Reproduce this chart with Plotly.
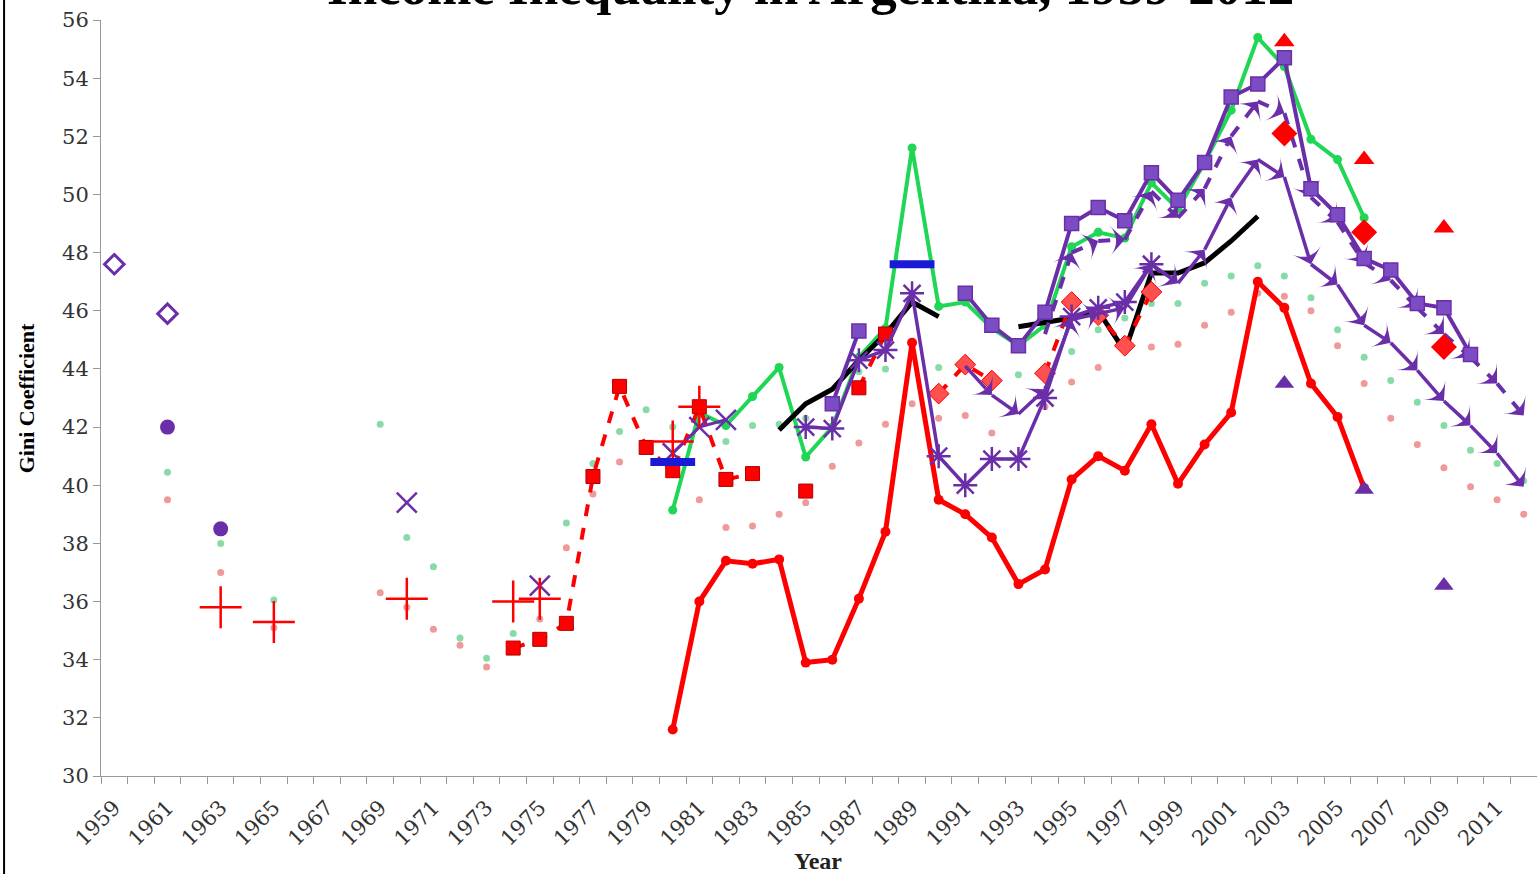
import plotly.graph_objects as go

# --- data (Gini coefficient, %) ---
years_red = list(range(1980, 2007))
gini_red = [31.6, 36.0, 37.4, 37.3, 37.45, 33.9, 34.0, 36.1, 38.4, 44.9, 39.5, 39.0, 38.2, 36.6,
            37.1, 40.2, 41.0, 40.5, 42.1, 40.05, 41.4, 42.5, 47.0, 46.1, 43.5, 42.35, 39.9]

years_green = list(range(1980, 2007))
gini_green = [39.15, 42.5, 42.05, 43.05, 44.05, 40.97, 42.0, 44.4, 45.4, 51.6, 46.15, 46.3, 45.4, 44.8,
              45.5, 48.2, 48.7, 48.5, 50.4, 49.5, 51.1, 52.9, 55.4, 54.4, 51.9, 51.2, 49.2]

years_black = list(range(1984, 2003))
gini_black = [41.9, 42.8, 43.3, 44.3, 45.2, 46.3, 45.8, None, None, 45.45, 45.6, 45.75, 46.0, 44.6,
              47.3, 47.3, 47.65, 48.4, 49.25]

years_sq = list(range(1986, 2011))
gini_sq = [42.8, 45.3, None, None, None, 46.6, 45.5, 44.8, 45.95, 49.0, 49.55, 49.1, 50.75, 49.8,
           51.1, 53.35, 53.8, 54.7, 50.2, 49.3, 47.8, 47.4, 46.25, 46.1, 44.5]

years_arrow_dash = list(range(1994, 2013))
gini_arrow_dash = [45.2, 48.0, 48.4, 48.45, 50.1, 49.2, 50.2, 52.0, 53.2, 52.8, 49.9, 49.05, 47.65,
                   47.05, 46.1, 45.2, 44.4, 43.5, 42.4]

years_arrow = list(range(1991, 2013))
gini_arrow = [44.1, 43.1, 42.45, 43.3, 45.7, 45.9, 46.1, 47.6, 46.95, 48.1, 49.9, 51.2, 50.6, 47.6,
              46.9, 45.5, 44.9, 43.95, 42.9, 42.05, 41.1, 39.95]

years_star = list(range(1985, 1999))
gini_star = [42.0, 41.95, 44.3, 44.65, 46.6, 41.0, 40.0, 40.9, 40.9, 43.0, 45.8, 46.1, 46.3, 47.6]

years_x = list(range(1970, 1983))
gini_x = [39.4, None, None, None, None, 36.55, None, None, None, None, 41.1, 42.0, 42.25]

years_plus = [1963, 1965, 1970, 1974, 1975, 1980, 1981]
gini_plus = [35.8, 35.3, 36.1, 36.0, 36.1, 41.5, 42.7]

years_redsq = list(range(1974, 1989))
gini_redsq = [34.4, 34.7, 35.25, 40.3, 43.4, 41.3, 40.5, 42.7, 40.2, 40.4, None, 39.8, None, 43.35, 45.2]

years_reddia = list(range(1990, 1999))
gini_reddia = [43.15, 44.15, 43.6, None, 43.85, 46.3, 45.85, 44.8, 46.65]

years_pdia = [1959, 1961]
gini_pdia = [47.6, 45.9]

years_oval = [1961, 1963]
gini_oval = [42.0, 38.5]

years_blue = [1980, 1989]
gini_blue = [40.8, 47.6]

years_tri = [2003, 2006, 2009]
gini_tri_red = [55.25, 51.2, 48.85]
gini_dia_red = [52.1, 48.7, 44.75]
gini_tri_purple = [43.5, 39.85, 36.55]

years_gdot = [1961, 1963, 1965, 1969, 1970, 1971, 1972, 1973, 1974, 1976, 1977, 1978, 1979, 1980,
              1982, 1983, 1984, 1985, 1987, 1988, 1989, 1990, 1993, 1995, 1996, 1997, 1998, 1999,
              2000, 2001, 2002, 2003, 2004, 2005, 2006, 2007, 2008, 2009, 2010, 2011, 2012]
gini_gdot = [40.45, 38.0, 36.05, 42.1, 38.2, 37.2, 34.75, 34.05, 34.9, 38.7, 40.75, 41.85, 42.6, 42.0,
             41.5, 42.05, 42.1, 42.3, 43.9, 44.0, 44.9, 44.05, 43.8, 44.6, 45.35, 45.75, 46.25, 46.25,
             46.95, 47.2, 47.55, 47.2, 46.45, 45.35, 44.4, 43.6, 42.85, 42.05, 41.2, 40.75, 40.15]

years_pdot = [1961, 1963, 1965, 1969, 1970, 1971, 1972, 1973, 1975, 1976, 1977, 1978, 1981, 1982,
              1983, 1984, 1985, 1986, 1987, 1988, 1989, 1990, 1991, 1992, 1994, 1995, 1996, 1998,
              1999, 2000, 2001, 2002, 2003, 2004, 2005, 2006, 2007, 2008, 2009, 2010, 2011, 2012]
gini_pdot = [39.5, 37.0, 35.1, 36.3, 35.8, 35.05, 34.5, 33.75, 35.4, 37.85, 39.7, 40.8, 39.5, 38.55,
             38.6, 39.0, 39.4, 40.65, 41.45, 42.1, 42.8, 42.3, 42.4, 41.8, 42.7, 43.55, 44.05, 44.75,
             44.85, 45.5, 45.95, 46.6, 46.5, 46.0, 44.8, 43.5, 42.3, 41.4, 40.6, 39.95, 39.5, 39.0]

tick_years = list(range(1959, 2012, 2))

RED = '#ff0000'
GREEN = '#1fd655'
PURPLE = '#6a2fa8'

fig = go.Figure()

# faint dotted series
fig.add_trace(go.Scatter(x=years_gdot, y=gini_gdot, mode='markers',
                         marker=dict(size=7, color='#5fcf8a', opacity=0.75)))
fig.add_trace(go.Scatter(x=years_pdot, y=gini_pdot, mode='markers',
                         marker=dict(size=7, color='#e87878', opacity=0.75)))

fig.add_trace(go.Scatter(x=years_red, y=gini_red, mode='lines+markers',
                         line=dict(color=RED, width=5), marker=dict(size=10, color=RED)))
fig.add_trace(go.Scatter(x=years_green, y=gini_green, mode='lines+markers',
                         line=dict(color=GREEN, width=4), marker=dict(size=9, color=GREEN)))
fig.add_trace(go.Scatter(x=years_black, y=gini_black, mode='lines',
                         line=dict(color='black', width=5)))

fig.add_trace(go.Scatter(x=years_redsq, y=gini_redsq, mode='lines+markers',
                         line=dict(color=RED, width=4, dash='dash'),
                         marker=dict(symbol='square', size=14, color=RED,
                                     line=dict(color='#b00000', width=1))))
fig.add_trace(go.Scatter(x=years_reddia, y=gini_reddia, mode='lines+markers',
                         line=dict(color=RED, width=4, dash='dash'),
                         marker=dict(symbol='diamond', size=16, color='#ff5050',
                                     line=dict(color=RED, width=1))))

fig.add_trace(go.Scatter(x=years_star, y=gini_star, mode='lines+markers',
                         line=dict(color=PURPLE, width=3.5),
                         marker=dict(symbol='asterisk-open', size=20, color=PURPLE,
                                     line=dict(width=2.5))))
fig.add_trace(go.Scatter(x=years_arrow, y=gini_arrow, mode='lines+markers',
                         line=dict(color=PURPLE, width=3.5),
                         marker=dict(symbol='arrow-wide', size=21, color=PURPLE, angleref='previous')))
fig.add_trace(go.Scatter(x=years_arrow_dash, y=gini_arrow_dash, mode='lines+markers',
                         line=dict(color=PURPLE, width=4, dash='dash'),
                         marker=dict(symbol='arrow-wide', size=21, color=PURPLE, angleref='previous')))
fig.add_trace(go.Scatter(x=years_sq, y=gini_sq, mode='lines+markers',
                         line=dict(color=PURPLE, width=4),
                         marker=dict(symbol='square', size=14, color='#7c4cc4',
                                     line=dict(color=PURPLE, width=1.5))))
fig.add_trace(go.Scatter(x=years_x, y=gini_x, mode='lines+markers',
                         line=dict(color=PURPLE, width=3),
                         marker=dict(symbol='x-thin-open', size=20, color=PURPLE,
                                     line=dict(width=2.5))))

fig.add_trace(go.Scatter(x=years_plus, y=gini_plus, mode='markers',
                         marker=dict(symbol='cross-thin-open', size=30, color=RED,
                                     line=dict(width=2.5))))
fig.add_trace(go.Scatter(x=years_pdia, y=gini_pdia, mode='markers',
                         marker=dict(symbol='diamond-open', size=15, color=PURPLE,
                                     line=dict(width=3))))
fig.add_trace(go.Scatter(x=years_oval, y=gini_oval, mode='markers',
                         marker=dict(symbol='circle', size=15, color=PURPLE)))
fig.add_trace(go.Scatter(x=years_blue, y=gini_blue, mode='markers',
                         marker=dict(symbol='line-ew-open', size=32, color='#1a1ad6',
                                     line=dict(width=8))))
fig.add_trace(go.Scatter(x=years_tri, y=gini_tri_red, mode='markers',
                         marker=dict(symbol='triangle-up', size=18, color=RED)))
fig.add_trace(go.Scatter(x=years_tri, y=gini_dia_red, mode='markers',
                         marker=dict(symbol='diamond', size=20, color=RED)))
fig.add_trace(go.Scatter(x=years_tri, y=gini_tri_purple, mode='markers',
                         marker=dict(symbol='triangle-up', size=17, color=PURPLE)))

fig.update_xaxes(range=[1958.5, 2012.5], tickvals=tick_years, ticktext=[str(y) for y in tick_years],
                 tickangle=-45, ticks='', ticklabelstandoff=10,
                 tickfont=dict(family='DejaVu Serif', size=21, color='#333333'),
                 showline=True, linecolor='#999999', linewidth=1, showgrid=False, zeroline=False,
                 minor=dict(ticks='outside', tick0=1958.5, dtick=1, ticklen=7, tickcolor='#999999'))
fig.update_yaxes(range=[30, 56], dtick=2, ticks='outside', ticklen=7, tickcolor='#999999',
                 tickfont=dict(family='DejaVu Serif', size=21, color='#333333'),
                 showline=True, linecolor='#999999', linewidth=1, showgrid=False, zeroline=False)

fig.update_layout(
    width=1537, height=874,
    showlegend=False,
    plot_bgcolor='white', paper_bgcolor='white',
    margin=dict(l=101, r=0, t=20, b=98),
    annotations=[
        # the title sits mostly above the top edge of the picture, as in the source image
        dict(text='<b>Income Inequality in Argentina, 1959-2012</b>', xref='paper', yref='paper',
             x=0.494, y=1.004, xanchor='center', yanchor='bottom', showarrow=False,
             font=dict(family='Liberation Serif', size=53, color='black')),
        dict(text='<b>Gini Coefficient</b>', xref='paper', yref='paper', x=-0.052, y=0.5,
             xanchor='center', yanchor='middle', textangle=-90, showarrow=False,
             font=dict(family='Liberation Serif', size=22, color='black')),
        dict(text='<b>Year</b>', xref='paper', yref='paper', x=0.499, y=-0.112,
             xanchor='center', yanchor='middle', showarrow=False,
             font=dict(family='Liberation Serif', size=24, color='#222222')),
    ],
    shapes=[dict(type='line', xref='paper', yref='paper', x0=-0.0675, x1=-0.0675, y0=-0.14, y1=1.04,
                 line=dict(color='black', width=2))],
)

# the page has a default 8px body margin; drop it so the figure sits at the window's corner
fig.write_html("out.html", config={'displayModeBar': False},
               post_script="document.body.style.margin='0';")
